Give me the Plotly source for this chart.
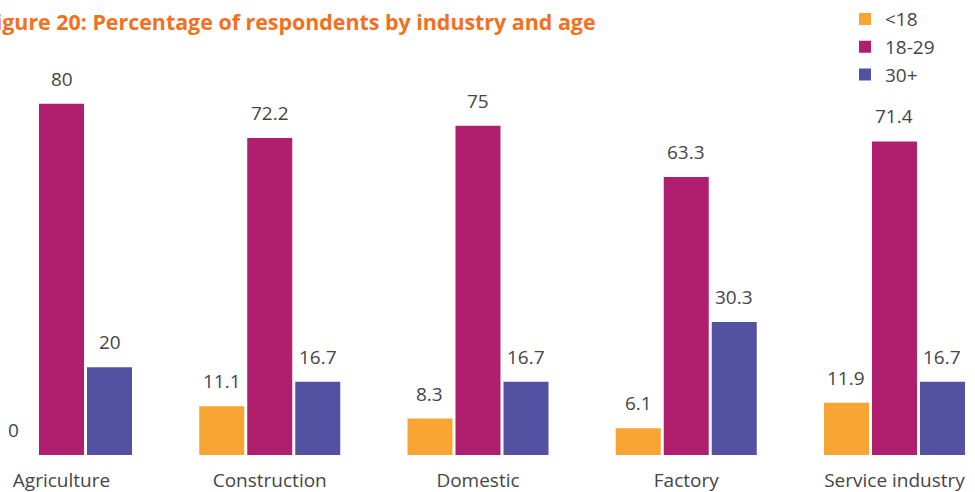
"""
Figure 20: Percentage of respondents by industry and age (grouped bars).
"""

import plotly.graph_objects as go

industries = ["Agriculture", "Construction", "Domestic", "Factory", "Service industry"]
age_groups = ["<18", "18-29", "30+"]
under_18 = [0, 11.1, 8.3, 6.1, 11.9]
age_18_29 = [80, 72.2, 75, 63.3, 71.4]
over_30 = [20, 16.7, 16.7, 30.3, 16.7]

colors = ["#F9A533", "#B01F6D", "#5351A2"]
TEXT = "#454545"
FONT = "Open Sans"


def build_figure() -> go.Figure:
    series = [under_18, age_18_29, over_30]
    fig = go.Figure()
    for name, values, color in zip(age_groups, series, colors):
        fig.add_trace(go.Bar(x=industries, y=values, name=name,
                             marker=dict(color=color, line=dict(width=0))))

    # value labels, sitting above each bar in its group slot
    shifts = [-48, 0, 48]
    for values, dx in zip(series, shifts):
        for cat, v in zip(industries, values):
            fig.add_annotation(x=cat, y=v, text=f"{v:g}", showarrow=False,
                               xshift=dx, yshift=25, yanchor="middle",
                               font=dict(family=FONT, size=19, color=TEXT))

    # the title runs off the left edge of the page in the original
    fig.add_annotation(text="<b>Figure 20: Percentage of respondents by industry and age</b>",
                       xref="paper", yref="paper", x=598 / 975, y=1 + 3 / 455,
                       xanchor="right", yanchor="top", showarrow=False,
                       font=dict(family=FONT, size=21.4, color="#F37021"))

    fig.update_layout(
        width=975, height=492,
        margin=dict(l=0, r=0, t=0, b=37),
        paper_bgcolor="white", plot_bgcolor="white",
        barmode="group", bargap=0.3085, bargroupgap=0.0625,
        font=dict(family=FONT, size=19, color=TEXT),
        showlegend=True,
        legend=dict(x=845 / 975, xanchor="left", y=1 + 8 / 455, yanchor="top",
                    font=dict(family=FONT, size=19, color=TEXT),
                    bgcolor="rgba(0,0,0,0)", tracegroupgap=0),
        xaxis=dict(range=[-0.2953, 4.3866], showgrid=False, zeroline=False,
                   showline=False, ticks="", ticklabelstandoff=12,
                   automargin=False, tickfont=dict(size=19, color=TEXT)),
        yaxis=dict(range=[0, 101.8], visible=False, showgrid=False,
                   zeroline=False),
    )
    return fig


def main() -> None:
    fig = build_figure()
    fig.write_html("out.html", config={"displayModeBar": False},
                   post_script="document.body.style.margin='0';")


if __name__ == "__main__":
    main()
